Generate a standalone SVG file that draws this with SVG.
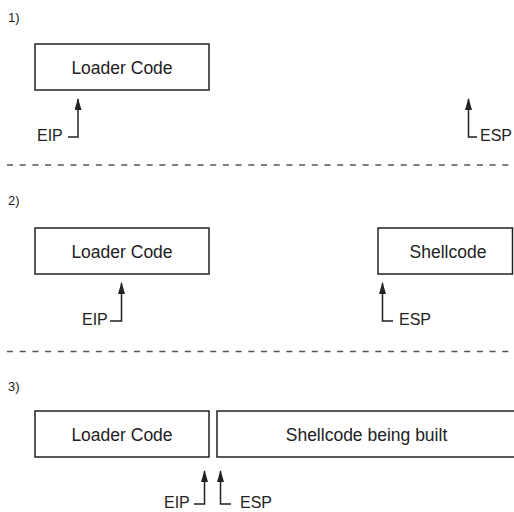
<svg xmlns="http://www.w3.org/2000/svg" width="514" height="512" viewBox="0 0 514 512">
<style>
.box{fill:#fff;stroke:#222;stroke-width:1.5}
.t{font-family:"Liberation Sans",Arial,sans-serif;font-size:17.5px;fill:#222;text-anchor:middle}
.lbl{font-family:"Liberation Sans",Arial,sans-serif;font-size:16px;fill:#222}
.num{font-family:"Liberation Sans",Arial,sans-serif;font-size:13px;fill:#222}
.ptr{fill:none;stroke:#222;stroke-width:1.5}
.dash{stroke:#555;stroke-width:1.4;stroke-dasharray:6 6.7}
</style>
<defs>
<marker id="ah" viewBox="0 0 12 7" refX="11" refY="3.5" markerWidth="12" markerHeight="7" markerUnits="userSpaceOnUse" orient="auto">
<path d="M0,0 L12,3.5 L0,7 z" fill="#222"/>
</marker>
</defs>
<g id="separators">
<line class="dash" x1="7" y1="165" x2="514" y2="165"/>
<line class="dash" x1="7" y1="351.5" x2="514" y2="351.5"/>
</g>
<g id="labels">
<text class="num" x="8" y="22">1)</text>
<text class="num" x="8" y="205">2)</text>
<text class="num" x="8" y="391">3)</text>
</g>
<g id="loader1"><rect class="box" x="35" y="44" width="174" height="46"/><text class="t" x="122" y="74">Loader Code</text></g>
<g id="loader2"><rect class="box" x="35" y="228" width="174" height="46"/><text class="t" x="122" y="258">Loader Code</text></g>
<g id="shellcode2"><rect class="box" x="378" y="228" width="134.5" height="46"/><text class="t" x="448" y="258">Shellcode</text></g>
<g id="loader3"><rect class="box" x="35" y="411" width="174" height="46"/><text class="t" x="122" y="441">Loader Code</text></g>
<g id="shellcode3"><rect class="box" x="217" y="411" width="305" height="46"/><text class="t" x="366.5" y="441">Shellcode being built</text></g>
<g id="connectors">
<path class="ptr" d="M68,137 H78 V99" marker-end="url(#ah)"/>
<path class="ptr" d="M477,137 H468.5 V99" marker-end="url(#ah)"/>
<path class="ptr" d="M110,321 H121.5 V283" marker-end="url(#ah)"/>
<path class="ptr" d="M393,321 H382.5 V283" marker-end="url(#ah)"/>
<path class="ptr" d="M194,504 H204.5 V471" marker-end="url(#ah)"/>
<path class="ptr" d="M231,504 H220.5 V471" marker-end="url(#ah)"/>
</g>
<g id="pointer-labels">
<text class="lbl" x="37" y="141">EIP</text>
<text class="lbl" x="480" y="141" font-size="15">ESP</text>
<text class="lbl" x="82" y="325">EIP</text>
<text class="lbl" x="399" y="325">ESP</text>
<text class="lbl" x="164" y="508">EIP</text>
<text class="lbl" x="240" y="508">ESP</text>
</g>
</svg>
